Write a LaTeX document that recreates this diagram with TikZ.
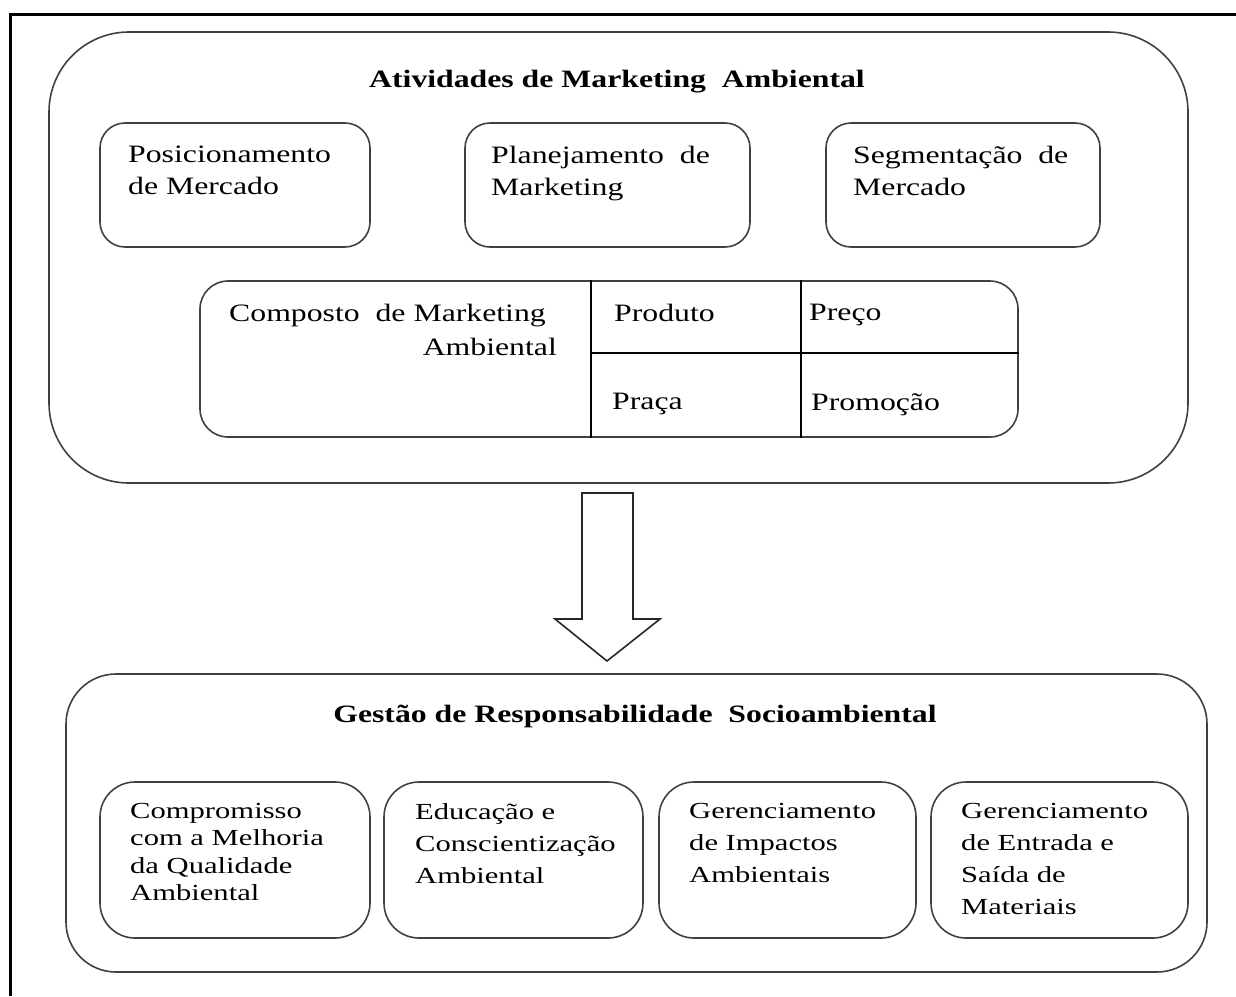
\documentclass[tikz,border=0pt]{standalone}
\usepackage{fontspec}
\setmainfont{Liberation Serif}[FakeStretch=1.27]
\newfontfamily\botf{Liberation Serif}[FakeStretch=1.33]
\begin{document}
\begin{tikzpicture}[x=1pt,y=-1pt,
  box/.style={draw=black!75,line width=1.6pt,minimum width=#1,inner sep=0pt},
  txt/.style={anchor=north west,inner sep=0pt,align=left,font=\fontsize{25}{32}\selectfont},
  btxt/.style={anchor=north west,inner sep=0pt,align=left,font=\botf\fontsize{23}{32}\selectfont},
  ttl/.style={inner sep=0pt,font=\bfseries\fontsize{25}{30}\selectfont},
  divider/.style={draw=black,line width=1.3pt}]
\useasboundingbox (0,0) rectangle (1236,996);
% frame
\draw[line width=3pt] (10,996) -- (10,14) -- (1236,14);
% top group
\node[box=1139pt,minimum height=451pt,rounded corners=80pt] (top) at (618.5,257.5) {};
\node[ttl] (toptitle) at (617,82) {Atividades de Marketing\ \ Ambiental};
\node[box=270pt,minimum height=124pt,rounded corners=25pt] (pos) at (235,185) {};
\node[box=285pt,minimum height=124pt,rounded corners=25pt] (plan) at (607.5,185) {};
\node[box=274pt,minimum height=124pt,rounded corners=25pt] (seg) at (963,185) {};
\node[txt] (postxt) at (128,146) {Posicionamento\\de Mercado};
\node[txt] (plantxt) at (491,146) {Planejamento\ \ de\\Marketing};
\node[txt] (segtxt) at (853,146) {Segmentação\ \ de\\Mercado};
\node[box=818pt,minimum height=156pt,rounded corners=28pt] (comp) at (609,359) {};
\draw[divider] (591,0 |- comp.north) -- (591,0 |- comp.south);
\draw[divider] (801,0 |- comp.north) -- (801,0 |- comp.south);
\draw[divider] (591,353) -- (591,353 -| comp.east);
\node[txt,anchor=north east,align=right,font=\fontsize{25}{34}\selectfont] (comptxt) at (557,304) {Composto\ \ de Marketing\hspace*{11pt}\\Ambiental};
\node[txt] (prod) at (614,304) {Produto};
\node[txt] (preco) at (809,304) {Preço};
\node[txt] (praca) at (612,393) {Praça};
\node[txt] (promo) at (811,393) {Promoção};
% arrow
\draw[black!85,line width=1.6pt,line join=miter] (582,493) -- (633,493) -- (633,619) -- (660,619) -- (607,661) -- (555,619) -- (582,619) -- cycle;
% bottom group
\node[box=1141pt,minimum height=298pt,rounded corners=50pt] (bot) at (636.5,823) {};
\node[ttl] (bottitle) at (635,716) {Gestão de Responsabilidade\ \ Socioambiental};
\node[box=270pt,minimum height=156pt,rounded corners=35pt] (b1) at (235,860) {};
\node[box=259pt,minimum height=156pt,rounded corners=35pt] (b2) at (513.5,860) {};
\node[box=257pt,minimum height=156pt,rounded corners=35pt] (b3) at (787.5,860) {};
\node[box=257pt,minimum height=156pt,rounded corners=35pt] (b4) at (1059.5,860) {};
\node[btxt,font=\botf\fontsize{23}{27.5}\selectfont] (b1txt) at (130,803) {Compromisso\\com a Melhoria\\da Qualidade\\Ambiental};
\node[btxt] (b2txt) at (415,803) {Educação e\\Conscientização\\Ambiental};
\node[btxt] (b3txt) at (689,803) {Gerenciamento\\de Impactos\\Ambientais};
\node[btxt] (b4txt) at (961,803) {Gerenciamento\\de Entrada e\\Saída de\\Materiais};
\end{tikzpicture}
\end{document}
